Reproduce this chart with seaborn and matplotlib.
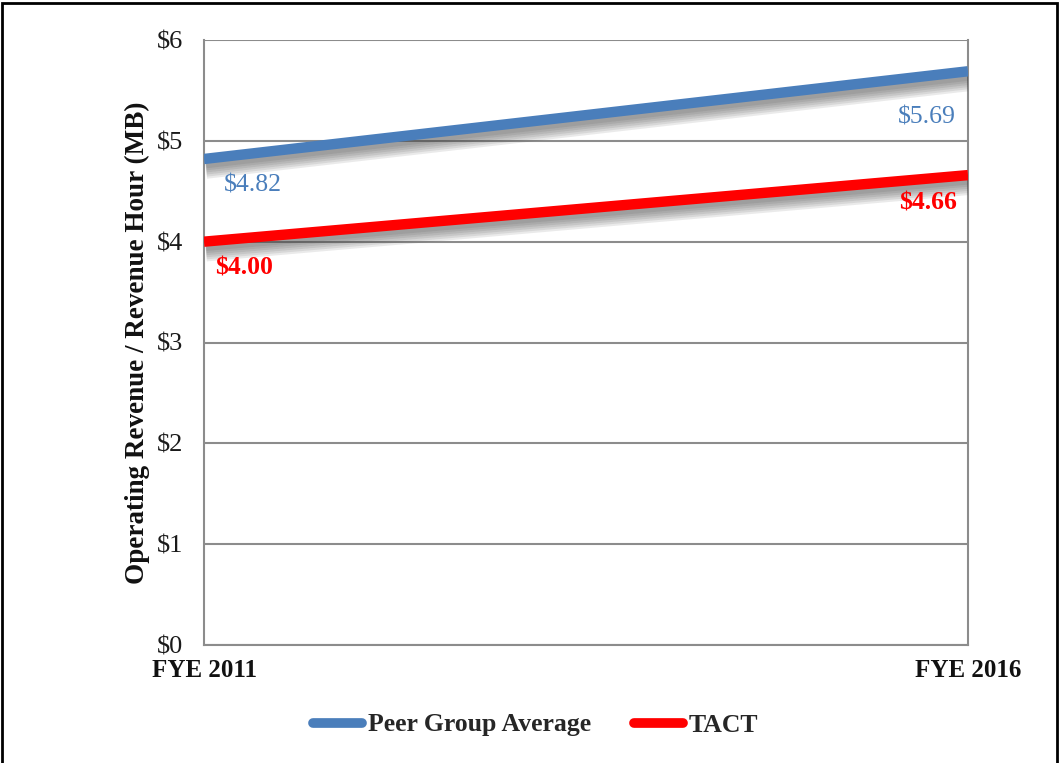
import matplotlib
matplotlib.use("Agg")
import matplotlib.pyplot as plt
import matplotlib.patheffects as pe
from matplotlib.lines import Line2D
from matplotlib.patches import Rectangle
import seaborn as sns
import pandas as pd

years = ["FYE 2011", "FYE 2016"]
peer_avg = [4.82, 5.69]
tact = [4.00, 4.66]
series_names = ["Peer Group Average", "TACT"]
y_ticks = [0, 1, 2, 3, 4, 5, 6]
y_tick_labels = ["$0", "$1", "$2", "$3", "$4", "$5", "$6"]

colors = {"Peer Group Average": "#4a7ebb", "TACT": "#ff0000"}

sns.set_theme(style="white")
plt.rcParams["font.family"] = ["Liberation Serif", "DejaVu Serif"]

df = pd.DataFrame({
    "year": years * 2,
    "pos": [0, 1] * 2,
    "value": peer_avg + tact,
    "series": [series_names[0]] * 2 + [series_names[1]] * 2,
})

fig = plt.figure(figsize=(10.61, 7.63), dpi=100)
ax = fig.add_axes([204 / 1061, 1 - 645 / 763, (968 - 204) / 1061, (645 - 40) / 763])

sns.lineplot(data=df, x="pos", y="value", hue="series", palette=colors,
             linewidth=7.5, ax=ax, legend=False, zorder=3)

# soft drop shadow under each line, built from a few faint offset strokes
shadow = [pe.SimpleLineShadow(offset=(1.5, -3 - k), shadow_color="#444444",
                              alpha=0.11, linewidth=7.5 + k)
          for k in range(0, 6)]
shadow.append(pe.Normal())
for ln in ax.get_lines():
    ln.set_path_effects(shadow)
    ln.set_solid_capstyle("butt")

ax.set_xlim(0, 1)
ax.set_ylim(0, 6)
ax.set_yticks(y_ticks)
ax.set_yticklabels(y_tick_labels, fontsize=19, color="#1a1a1a")
ax.set_xticks([0, 1])
ax.set_xticklabels(years, fontsize=18, fontweight="bold", color="#111111")
ax.tick_params(axis="x", length=0, pad=10)
ax.tick_params(axis="y", length=0, pad=15)

ax.grid(axis="y", color="#8c8c8c", linewidth=1.5)
ax.set_axisbelow(True)
for side in ["left", "right", "bottom"]:
    ax.spines[side].set_visible(True)
    ax.spines[side].set_color("#8c8c8c")
    ax.spines[side].set_linewidth(1.5)
ax.spines["top"].set_visible(False)

ax.set_xlabel("")
ax.set_ylabel("Operating Revenue / Revenue Hour (MB)", fontsize=19.5,
              fontweight="bold", color="#111111", labelpad=5)

# value labels
ax.annotate(f"${peer_avg[0]:.2f}", (0, peer_avg[0]), xytext=(14, -19),
            textcoords="offset points", color=colors["Peer Group Average"],
            fontsize=18.5, ha="left", va="center")
ax.annotate(f"${peer_avg[1]:.2f}", (1, peer_avg[1]), xytext=(-9, -33),
            textcoords="offset points", color=colors["Peer Group Average"],
            fontsize=18.5, ha="right", va="center")
ax.annotate(f"${tact[0]:.2f}", (0, tact[0]), xytext=(8, -19),
            textcoords="offset points", color=colors["TACT"],
            fontsize=18.5, fontweight="bold", ha="left", va="center")
ax.annotate(f"${tact[1]:.2f}", (1, tact[1]), xytext=(-8, -20),
            textcoords="offset points", color=colors["TACT"],
            fontsize=18.5, fontweight="bold", ha="right", va="center")

handles = [Line2D([0], [0], color=colors[n], linewidth=7, solid_capstyle="round")
           for n in series_names]
fig.legend(handles, series_names, loc="center", bbox_to_anchor=(0.505, 1 - 725 / 763),
           ncol=2, frameon=False, handlelength=1.9, handletextpad=0.25,
           columnspacing=1.65, prop={"size": 18.5, "weight": "bold"})

# outer frame
fig.patches.append(Rectangle((2 / 1061, -0.01), 1 - 6 / 1061, 1 - 3 / 763 + 0.01,
                             transform=fig.transFigure, fill=False,
                             edgecolor="black", linewidth=2))

fig.savefig("out.png", dpi=100)
